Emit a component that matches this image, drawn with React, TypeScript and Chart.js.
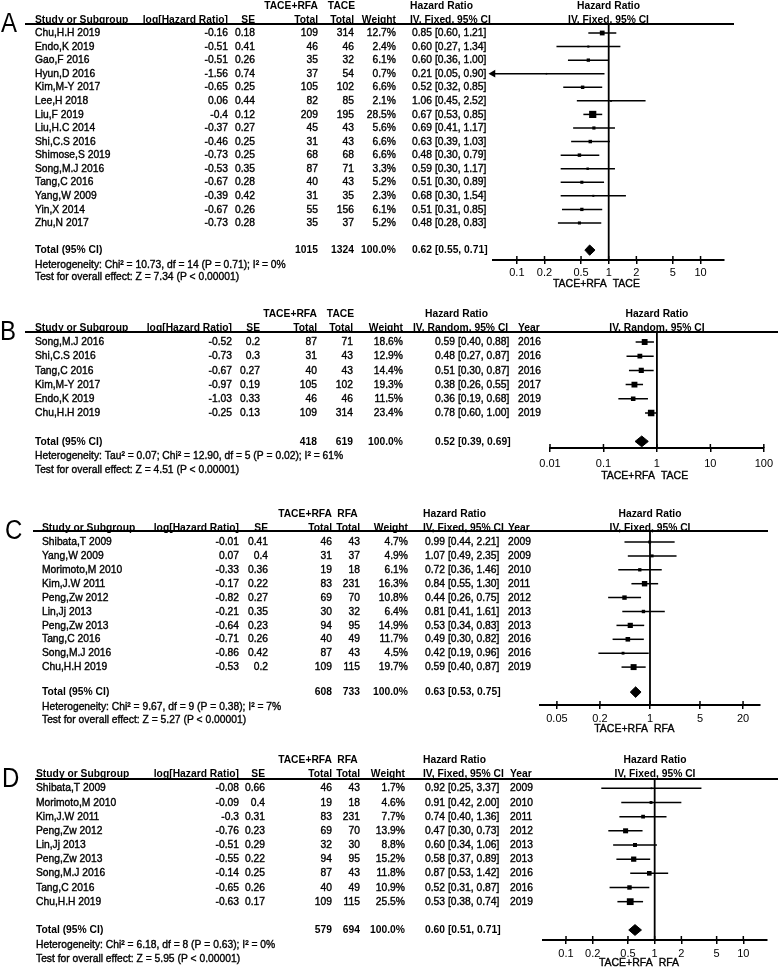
import React, { useEffect, useRef } from 'react';
import { Chart, registerables } from 'chart.js';

Chart.register(...registerables);

const FONT = '"Liberation Sans", Arial, Helvetica, sans-serif';

// ---------- Panel A: TACE+RFA vs TACE ----------
const studiesA = ['Chu,H.H 2019', 'Endo,K 2019', 'Gao,F 2016', 'Hyun,D 2016', 'Kim,M-Y 2017', 'Lee,H 2018', 'Liu,F 2019', 'Liu,H.C 2014', 'Shi,C.S 2016', 'Shimose,S 2019', 'Song,M.J 2016', 'Tang,C 2016', 'Yang,W 2009', 'Yin,X 2014', 'Zhu,N 2017'];
const logHrA = [-0.16, -0.51, -0.51, -1.56, -0.65, 0.06, -0.4, -0.37, -0.46, -0.73, -0.53, -0.67, -0.39, -0.67, -0.73];
const seA = [0.18, 0.41, 0.26, 0.74, 0.25, 0.44, 0.12, 0.27, 0.25, 0.25, 0.35, 0.28, 0.42, 0.26, 0.28];
const expA = [109, 46, 35, 37, 105, 82, 209, 45, 31, 68, 87, 40, 31, 55, 35];
const ctrlA = [314, 46, 32, 54, 102, 85, 195, 43, 43, 68, 71, 43, 35, 156, 37];
const weightA = [12.7, 2.4, 6.1, 0.7, 6.6, 2.1, 28.5, 5.6, 6.6, 6.6, 3.3, 5.2, 2.3, 6.1, 5.2];
const hrA = [0.85, 0.60, 0.60, 0.21, 0.52, 1.06, 0.67, 0.69, 0.63, 0.48, 0.59, 0.51, 0.68, 0.51, 0.48];
const loA = [0.60, 0.27, 0.36, 0.05, 0.32, 0.45, 0.53, 0.41, 0.39, 0.30, 0.30, 0.30, 0.30, 0.31, 0.28];
const hiA = [1.21, 1.34, 1.00, 0.90, 0.85, 2.52, 0.85, 1.17, 1.03, 0.79, 1.17, 0.89, 1.54, 0.85, 0.83];
const totalsA = [1015, 1324];
const pooledA = [0.62, 0.55, 0.71];
const groupsA = ['TACE+RFA', 'TACE'];
const hetA = 'Heterogeneity: Chi² = 10.73, df = 14 (P = 0.71); I² = 0%';
const testA = 'Test for overall effect: Z = 7.34 (P < 0.00001)';
const ticksA = [0.1, 0.2, 0.5, 1, 2, 5, 10];
const rangeA = [0.055, 18];

// ---------- Panel B: TACE+RFA vs TACE (random) ----------
const studiesB = ['Song,M.J 2016', 'Shi,C.S 2016', 'Tang,C 2016', 'Kim,M-Y 2017', 'Endo,K 2019', 'Chu,H.H 2019'];
const logHrB = [-0.52, -0.73, -0.67, -0.97, -1.03, -0.25];
const seB = [0.2, 0.3, 0.27, 0.19, 0.33, 0.13];
const expB = [87, 31, 40, 105, 46, 109];
const ctrlB = [71, 43, 43, 102, 46, 314];
const weightB = [18.6, 12.9, 14.4, 19.3, 11.5, 23.4];
const hrB = [0.59, 0.48, 0.51, 0.38, 0.36, 0.78];
const loB = [0.40, 0.27, 0.30, 0.26, 0.19, 0.60];
const hiB = [0.88, 0.87, 0.87, 0.55, 0.68, 1.00];
const yearsB = [2016, 2016, 2016, 2017, 2019, 2019];
const totalsB = [418, 619];
const pooledB = [0.52, 0.39, 0.69];
const groupsB = ['TACE+RFA', 'TACE'];
const hetB = 'Heterogeneity: Tau² = 0.07; Chi² = 12.90, df = 5 (P = 0.02); I² = 61%';
const testB = 'Test for overall effect: Z = 4.51 (P < 0.00001)';
const ticksB = [0.01, 0.1, 1, 10, 100];
const rangeB = [0.01, 100];

// ---------- Panel C: TACE+RFA vs RFA ----------
const studiesC = ['Shibata,T 2009', 'Yang,W 2009', 'Morimoto,M 2010', 'Kim,J.W 2011', 'Peng,Zw 2012', 'Lin,Jj 2013', 'Peng,Zw 2013', 'Tang,C 2016', 'Song,M.J 2016', 'Chu,H.H 2019'];
const logHrC = [-0.01, 0.07, -0.33, -0.17, -0.82, -0.21, -0.64, -0.71, -0.86, -0.53];
const seC = [0.41, 0.4, 0.36, 0.22, 0.27, 0.35, 0.23, 0.26, 0.42, 0.2];
const expC = [46, 31, 19, 83, 69, 30, 94, 40, 87, 109];
const ctrlC = [43, 37, 18, 231, 70, 32, 95, 49, 43, 115];
const weightC = [4.7, 4.9, 6.1, 16.3, 10.8, 6.4, 14.9, 11.7, 4.5, 19.7];
const hrC = [0.99, 1.07, 0.72, 0.84, 0.44, 0.81, 0.53, 0.49, 0.42, 0.59];
const loC = [0.44, 0.49, 0.36, 0.55, 0.26, 0.41, 0.34, 0.30, 0.19, 0.40];
const hiC = [2.21, 2.35, 1.46, 1.30, 0.75, 1.61, 0.83, 0.82, 0.96, 0.87];
const yearsC = [2009, 2009, 2010, 2011, 2012, 2013, 2013, 2016, 2016, 2019];
const totalsC = [608, 733];
const pooledC = [0.63, 0.53, 0.75];
const groupsC = ['TACE+RFA', 'RFA'];
const hetC = 'Heterogeneity: Chi² = 9.67, df = 9 (P = 0.38); I² = 7%';
const testC = 'Test for overall effect: Z = 5.27 (P < 0.00001)';
const ticksC = [0.05, 0.2, 1, 5, 20];
const rangeC = [0.029, 34.5];

// ---------- Panel D: TACE+RFA vs RFA ----------
const studiesD = ['Shibata,T 2009', 'Morimoto,M 2010', 'Kim,J.W 2011', 'Peng,Zw 2012', 'Lin,Jj 2013', 'Peng,Zw 2013', 'Song,M.J 2016', 'Tang,C 2016', 'Chu,H.H 2019'];
const logHrD = [-0.08, -0.09, -0.3, -0.76, -0.51, -0.55, -0.14, -0.65, -0.63];
const seD = [0.66, 0.4, 0.31, 0.23, 0.29, 0.22, 0.25, 0.26, 0.17];
const expD = [46, 19, 83, 69, 32, 94, 87, 40, 109];
const ctrlD = [43, 18, 231, 70, 30, 95, 43, 49, 115];
const weightD = [1.7, 4.6, 7.7, 13.9, 8.8, 15.2, 11.8, 10.9, 25.5];
const hrD = [0.92, 0.91, 0.74, 0.47, 0.60, 0.58, 0.87, 0.52, 0.53];
const loD = [0.25, 0.42, 0.40, 0.30, 0.34, 0.37, 0.53, 0.31, 0.38];
const hiD = [3.37, 2.00, 1.36, 0.73, 1.06, 0.89, 1.42, 0.87, 0.74];
const yearsD = [2009, 2010, 2011, 2012, 2013, 2013, 2016, 2016, 2019];
const totalsD = [579, 694];
const pooledD = [0.60, 0.51, 0.71];
const groupsD = ['TACE+RFA', 'RFA'];
const hetD = 'Heterogeneity: Chi² = 6.18, df = 8 (P = 0.63); I² = 0%';
const testD = 'Test for overall effect: Z = 5.95 (P < 0.00001)';
const ticksD = [0.1, 0.2, 0.5, 1, 2, 5, 10];
const rangeD = [0.055, 18.5];

// ---------- layout (pixel positions, separate from data) ----------
const layoutA = { canvasTop: 0, canvasH: 300, lineY: 24, axisY: 260, row0: 33, rowH: 13.57, totalIdx: 16, axisL: 493, axisR: 724, lineX0: 25, lineX1: 734, letterX: 1, nameX: 35, logR: 228, seR: 255, expR: 318, ctrlR: 354, wR: 396, hrHeadX: 410, ciHeadX: 410, ciX: 412, yearX: 0, tickPad: 2, xlabOff: 24 };
const layoutB = { canvasTop: 300, canvasH: 185, lineY: 332, axisY: 448, row0: 342, rowH: 14.2, totalIdx: 7, axisL: 550, axisR: 768, lineX0: 25, lineX1: 778, letterX: 0, nameX: 35, logR: 232, seR: 260, expR: 317, ctrlR: 353, wR: 403, hrHeadX: 425, ciHeadX: 413, ciX: 435, yearX: 518, tickPad: 5, xlabOff: 28 };
const layoutC = { canvasTop: 485, canvasH: 250, lineY: 531, axisY: 705, row0: 542, rowH: 13.9, totalIdx: 10.8, axisL: 540, axisR: 760, lineX0: 33, lineX1: 768, letterX: 5, nameX: 42, logR: 239, seR: 268, expR: 332, ctrlR: 360, wR: 408, hrHeadX: 423, ciHeadX: 423, ciX: 425, yearX: 508, tickPad: 3, xlabOff: 24 };
const layoutD = { canvasTop: 735, canvasH: 236, lineY: 779, axisY: 940, row0: 788.3, rowH: 14.17, totalIdx: 10, axisL: 543, axisR: 767, lineX0: 35, lineX1: 778, letterX: 2, nameX: 36, logR: 239, seR: 265, expR: 332, ctrlR: 360, wR: 405, hrHeadX: 423, ciHeadX: 423, ciX: 425, yearX: 510, tickPad: 3, xlabOff: 23 };

const panels = [
  { key: 'A', studies: studiesA, logHr: logHrA, se: seA, exp: expA, ctrl: ctrlA, weight: weightA, hr: hrA, lo: loA, hi: hiA, years: null as number[] | null, totals: totalsA, pooled: pooledA, groups: groupsA, het: hetA, test: testA, ticks: ticksA, range: rangeA, method: 'IV, Fixed, 95% CI', L: layoutA },
  { key: 'B', studies: studiesB, logHr: logHrB, se: seB, exp: expB, ctrl: ctrlB, weight: weightB, hr: hrB, lo: loB, hi: hiB, years: yearsB, totals: totalsB, pooled: pooledB, groups: groupsB, het: hetB, test: testB, ticks: ticksB, range: rangeB, method: 'IV, Random, 95% CI', L: layoutB },
  { key: 'C', studies: studiesC, logHr: logHrC, se: seC, exp: expC, ctrl: ctrlC, weight: weightC, hr: hrC, lo: loC, hi: hiC, years: yearsC, totals: totalsC, pooled: pooledC, groups: groupsC, het: hetC, test: testC, ticks: ticksC, range: rangeC, method: 'IV, Fixed, 95% CI', L: layoutC },
  { key: 'D', studies: studiesD, logHr: logHrD, se: seD, exp: expD, ctrl: ctrlD, weight: weightD, hr: hrD, lo: loD, hi: hiD, years: yearsD, totals: totalsD, pooled: pooledD, groups: groupsD, het: hetD, test: testD, ticks: ticksD, range: rangeD, method: 'IV, Fixed, 95% CI', L: layoutD },
];

type Panel = typeof panels[number];

function txt(ctx: CanvasRenderingContext2D, s: string, x: number, y: number, align: CanvasTextAlign, bold: boolean, size = 10.3, sy = 1.12) {
  ctx.save();
  ctx.font = `${bold ? 'bold ' : ''}${size}px ${FONT}`;
  ctx.textAlign = align;
  ctx.textBaseline = 'middle';
  ctx.fillStyle = '#000';
  ctx.strokeStyle = '#000';
  ctx.translate(x, y);
  ctx.scale(1, sy);
  ctx.fillText(s, 0, 0);
  if (!bold && size < 14) {
    ctx.lineWidth = 0.35;
    ctx.strokeText(s, 0, 0);
  }
  ctx.restore();
}

const ci = (h: number, l: number, u: number) => `${h.toFixed(2)} [${l.toFixed(2)}, ${u.toFixed(2)}]`;

function drawTable(chart: any, p: Panel) {
  const ctx: CanvasRenderingContext2D = chart.ctx;
  const L = p.L;
  const ys = chart.scales.y;
  const xs = chart.scales.x;
  const Y = (v: number) => ys.getPixelForValue(v);
  const area = chart.chartArea;
  const T = L.totalIdx;

  ctx.save();
  ctx.strokeStyle = '#000';
  ctx.lineWidth = 2;
  ctx.beginPath();
  ctx.moveTo(L.lineX0, area.top);
  ctx.lineTo(L.lineX1, area.top);
  ctx.stroke();
  ctx.lineWidth = 1.5;
  xs.ticks.forEach((t: any) => {
    const x = xs.getPixelForValue(t.value);
    ctx.beginPath();
    ctx.moveTo(x, area.bottom - 4);
    ctx.lineTo(x, area.bottom);
    ctx.stroke();
  });
  ctx.restore();

  txt(ctx, p.key, L.letterX, area.top, 'left', false, 24, 1.15);

  const gy = Y(-2);
  const hy = Y(-1);
  const cx = (area.left + area.right) / 2;
  txt(ctx, p.groups[0], L.expR, gy, 'right', true);
  txt(ctx, p.groups[1], L.ctrlR - 12.5, gy, 'center', true);
  txt(ctx, 'Hazard Ratio', L.hrHeadX, gy, 'left', true);
  txt(ctx, 'Hazard Ratio', cx, gy, 'center', true);

  txt(ctx, 'Study or Subgroup', L.nameX, hy, 'left', true);
  txt(ctx, 'log[Hazard Ratio]', L.logR, hy, 'right', true);
  txt(ctx, 'SE', L.seR, hy, 'right', true);
  txt(ctx, 'Total', L.expR, hy, 'right', true);
  txt(ctx, 'Total', L.ctrlR, hy, 'right', true);
  txt(ctx, 'Weight', L.wR, hy, 'right', true);
  txt(ctx, p.method, L.ciHeadX, hy, 'left', true);
  if (p.years) txt(ctx, 'Year', L.yearX, hy, 'left', true);
  txt(ctx, p.method, cx, hy, 'center', true);

  p.studies.forEach((s, i) => {
    const y = Y(i);
    txt(ctx, s, L.nameX, y, 'left', false);
    txt(ctx, String(p.logHr[i]), L.logR, y, 'right', false);
    txt(ctx, String(p.se[i]), L.seR, y, 'right', false);
    txt(ctx, String(p.exp[i]), L.expR, y, 'right', false);
    txt(ctx, String(p.ctrl[i]), L.ctrlR, y, 'right', false);
    txt(ctx, p.weight[i].toFixed(1) + '%', L.wR, y, 'right', false);
    txt(ctx, ci(p.hr[i], p.lo[i], p.hi[i]), L.ciX, y, 'left', false);
    if (p.years) txt(ctx, String(p.years[i]), L.yearX, y, 'left', false);
  });

  const ty = Y(T);
  txt(ctx, 'Total (95% CI)', L.nameX, ty, 'left', true);
  txt(ctx, String(p.totals[0]), L.expR, ty, 'right', true);
  txt(ctx, String(p.totals[1]), L.ctrlR, ty, 'right', true);
  txt(ctx, '100.0%', L.wR, ty, 'right', true);
  txt(ctx, ci(p.pooled[0], p.pooled[1], p.pooled[2]), L.ciX, ty, 'left', true);
  txt(ctx, p.het, L.nameX, Y(T + 1.05), 'left', false);
  txt(ctx, p.test, L.nameX, Y(T + 2.0), 'left', false);

  const x1 = xs.getPixelForValue(1);
  const ly = area.bottom + L.xlabOff;
  txt(ctx, p.groups[0], x1 - 2, ly, 'right', false, 10.5);
  txt(ctx, p.groups[1], x1 + 4, ly, 'left', false, 10.5);
}

function makeConfig(p: Panel): any {
  const L = p.L;
  const n = p.studies.length;
  const yMin = (L.lineY - L.row0) / L.rowH;
  const yMax = (L.axisY - L.row0) / L.rowH;
  const T = L.totalIdx;
  const datasets: any[] = [];
  for (let i = 0; i < n; i++) {
    datasets.push({
      type: 'line',
      data: [{ x: p.lo[i], y: i }, { x: p.hi[i], y: i }],
      borderColor: '#000', borderWidth: 1.5, pointRadius: 0, fill: false,
    });
  }
  datasets.push({
    type: 'line', showLine: false,
    data: p.hr.map((v, i) => ({ x: v, y: i })),
    pointStyle: 'rect',
    pointRadius: p.weight.map((w) => Math.max(1.1, Math.sqrt(w) * 0.95)),
    pointBackgroundColor: '#000', pointBorderColor: '#000', pointBorderWidth: 0,
    borderColor: '#000', backgroundColor: '#000',
  });
  datasets.push({
    type: 'line',
    data: [{ x: 1, y: yMin }, { x: 1, y: yMax }],
    borderColor: '#000', borderWidth: 1.8, pointRadius: 0, fill: false,
  });
  const [ph, pl, pu] = p.pooled;
  datasets.push({
    type: 'line',
    data: [{ x: pl, y: T }, { x: ph, y: T - 0.38 }, { x: pu, y: T }, { x: ph, y: T + 0.38 }, { x: pl, y: T }],
    fill: 'shape', backgroundColor: '#000', borderColor: '#000', borderWidth: 1, pointRadius: 0,
  });
  const arrowRows = p.lo.map((v, i) => (v < p.range[0] ? i : -1)).filter((i) => i >= 0);
  if (arrowRows.length) {
    datasets.push({
      type: 'line', showLine: false, clip: false,
      data: arrowRows.map((i) => ({ x: p.range[0], y: i })),
      pointStyle: 'triangle', rotation: 270, pointRadius: 4.5,
      pointBackgroundColor: '#000', pointBorderColor: '#000', pointBorderWidth: 0,
      borderColor: '#000', backgroundColor: '#000',
    });
  }
  const XH = 30;
  return {
    type: 'line',
    data: { datasets },
    options: {
      responsive: false,
      animation: false,
      devicePixelRatio: 1,
      events: [],
      layout: {
        padding: {
          left: L.axisL,
          right: 778 - L.axisR,
          top: L.lineY - L.canvasTop,
          bottom: L.canvasH - (L.axisY - L.canvasTop) - XH,
        },
      },
      plugins: { legend: { display: false }, tooltip: { enabled: false } },
      scales: {
        x: {
          type: 'logarithmic', position: 'bottom', bounds: 'data',
          min: p.range[0], max: p.range[1],
          afterBuildTicks: (s: any) => { s.ticks = p.ticks.map((v) => ({ value: v })); },
          afterFit: (s: any) => { s.height = XH; },
          grid: { display: true, drawOnChartArea: false, drawTicks: true, tickLength: 4, color: '#000', lineWidth: 1.5 },
          border: { display: true, color: '#000', width: 2 },
          ticks: {
            autoSkip: false, maxRotation: 0, minRotation: 0, padding: L.tickPad, color: '#000',
            font: { family: FONT, size: 11 },
            callback: (v: any) => String(v),
          },
        },
        y: { type: 'linear', min: yMin, max: yMax, reverse: true, display: false, bounds: 'data' },
      },
    },
    plugins: [{ id: 'table' + p.key, afterDraw: (chart: any) => drawTable(chart, p) }],
  };
}

function ForestPanel({ p }: { p: Panel }) {
  const ref = useRef<HTMLCanvasElement>(null);
  useEffect(() => {
    const chart = new Chart(ref.current as HTMLCanvasElement, makeConfig(p));
    return () => chart.destroy();
  }, [p]);
  return (
    <canvas
      ref={ref}
      width={778}
      height={p.L.canvasH}
      style={{ position: 'absolute', left: 0, top: p.L.canvasTop, width: 778, height: p.L.canvasH }}
    />
  );
}

export default function App() {
  return (
    <div style={{ position: 'absolute', left: 0, top: 0, width: 778, height: 971, background: '#fff', overflow: 'hidden' }}>
      {panels.map((p) => <ForestPanel key={p.key} p={p} />)}
    </div>
  );
}
